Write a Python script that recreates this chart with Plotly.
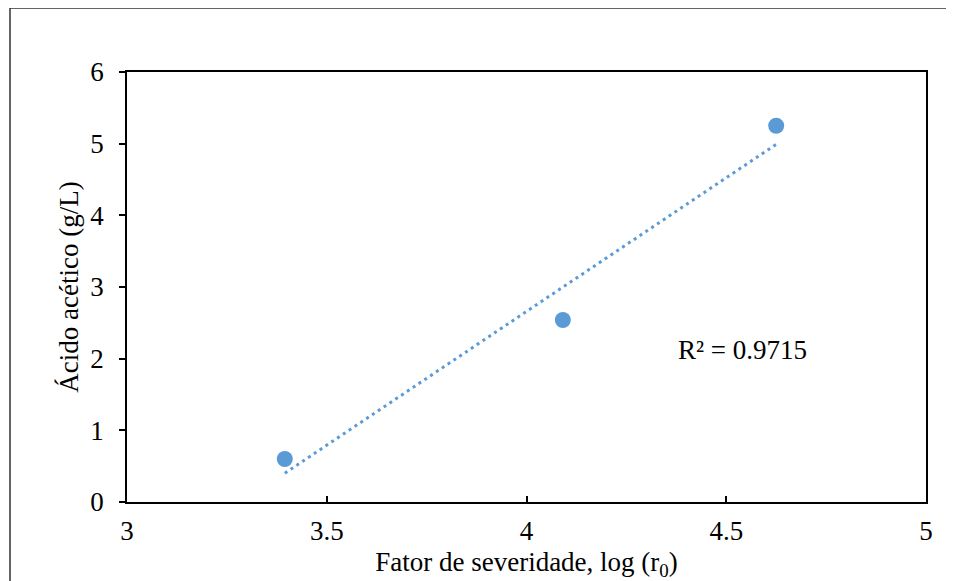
import numpy as np
import plotly.graph_objects as go

# Data
severity_log_r0 = [3.395, 4.091, 4.625]
acetic_acid_gL = [0.60, 2.54, 5.25]
x_ticks = [3, 3.5, 4, 4.5, 5]
x_tick_labels = ["3", "3.5", "4", "4.5", "5"]
y_ticks = [0, 1, 2, 3, 4, 5, 6]
r2_label = "R² = 0.9715"

color = "#5B9BD5"
font_family = "Liberation Serif, Times New Roman, serif"
fs = 27

# Linear trendline from the data
slope, intercept = np.polyfit(severity_log_r0, acetic_acid_gL, 1)
trend_x = np.array([min(severity_log_r0), max(severity_log_r0)])
trend_y = slope * trend_x + intercept

fig = go.Figure()
fig.add_trace(go.Scatter(
    x=trend_x, y=trend_y, mode="lines",
    line=dict(color=color, width=3, dash="3px,4px"),
    hoverinfo="skip", showlegend=False,
))
fig.add_trace(go.Scatter(
    x=severity_log_r0, y=acetic_acid_gL, mode="markers",
    marker=dict(color=color, size=16),
    showlegend=False,
))

fig.add_annotation(
    x=4.54, y=2.12, xref="x", yref="y", text=r2_label, showarrow=False,
    font=dict(family=font_family, size=fs, color="black"),
)

# page body has an 8px margin; compensate so the plot lands where the reference has it
OFF = 8
W, H = 954 - OFF, 581 - OFF
l, r, t, b = 127 - OFF, 28, 72 - OFF, 79
pw, ph = W - l - r, H - t - b

def px_to_paper_x(px):
    return (px - OFF - l) / pw

def py_to_paper_y(py):
    return (H - b - (py - OFF)) / ph

fig.add_shape(
    type="rect", xref="paper", yref="paper",
    x0=px_to_paper_x(10), x1=px_to_paper_x(952),
    y0=py_to_paper_y(595), y1=py_to_paper_y(8),
    line=dict(color="#333333", width=1.5), layer="below",
)

fig.update_layout(
    width=W, height=H,
    margin=dict(l=l, r=r, t=t, b=b, autoexpand=False),
    paper_bgcolor="white", plot_bgcolor="white",
    font=dict(family=font_family, size=fs, color="black"),
    xaxis=dict(
        range=[3, 5], tickvals=x_ticks, ticktext=x_tick_labels,
        ticks="inside", ticklen=6, tickwidth=1.5, tickcolor="black",
        showline=True, linecolor="black", linewidth=1.5, mirror=True,
        showgrid=False, zeroline=False, ticklabelstandoff=4,
        automargin=False,
        tickfont=dict(family=font_family, size=fs),
        title=dict(text="Fator de severidade, log (r<sub>0</sub>)",
                   font=dict(family=font_family, size=fs), standoff=12),
    ),
    yaxis=dict(
        range=[0, 6], tickvals=y_ticks,
        ticks="outside", ticklen=6, tickwidth=1.5, tickcolor="black",
        showline=True, linecolor="black", linewidth=1.5, mirror=True,
        showgrid=False, zeroline=False, ticklabelstandoff=10,
        automargin=False,
        tickfont=dict(family=font_family, size=fs),
        title=dict(text="Ácido acético (g/L)",
                   font=dict(family=font_family, size=fs), standoff=4),
    ),
)

fig.write_html("out.html")
